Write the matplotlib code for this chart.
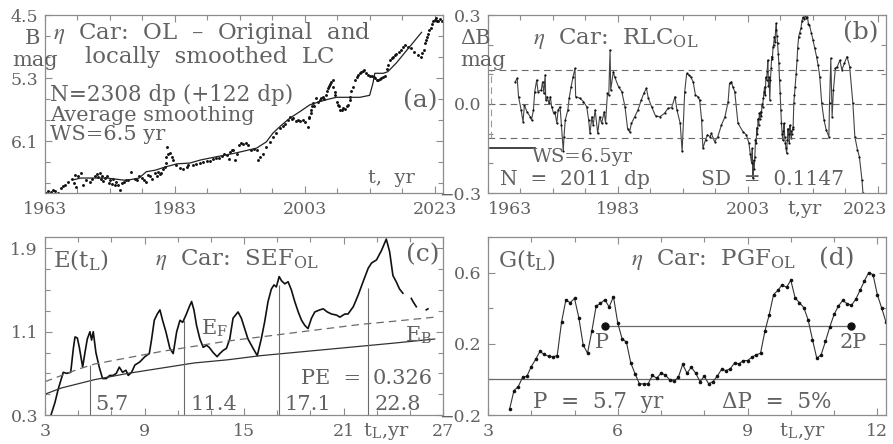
import numpy as np
import matplotlib
matplotlib.use('Agg')
import matplotlib.pyplot as plt
from matplotlib.ticker import FixedLocator

plt.rcParams['font.family'] = ['DejaVu Serif', 'DejaVu Sans']
plt.rcParams['mathtext.fontset'] = 'stix'

TXT = '#626262'
FRAME = '#8c8c8c'
GREY = '#6a6a6a'

# (a) original light curve (year, B mag) and locally smoothed curve
a_year = [1963.2, 1963.5, 1963.9, 1964.3, 1964.6, 1965.0, 1965.4, 1965.8, 1966.1, 1966.6,
          1967.1, 1967.4, 1967.6, 1967.8, 1968.1, 1968.5, 1968.9, 1969.3, 1969.9, 1970.3,
          1970.7, 1971.0, 1971.2, 1971.4, 1971.6, 1971.8, 1972.0, 1972.3, 1972.5, 1972.8,
          1973.0, 1973.3, 1973.5, 1973.8, 1974.0, 1974.3, 1974.5, 1974.8, 1975.1, 1975.5,
          1975.8, 1976.3, 1976.8, 1977.1, 1977.5, 1977.9, 1978.3, 1978.6, 1978.9, 1979.2,
          1979.5, 1979.9, 1980.2, 1980.4, 1980.7, 1980.9, 1981.2, 1981.5, 1981.6, 1981.7,
          1981.8, 1982.0, 1982.2, 1982.5, 1982.7, 1983.2, 1983.8, 1984.3, 1984.8, 1985.1,
          1985.8, 1986.3, 1986.9, 1987.4, 1987.9, 1988.4, 1988.9, 1989.4, 1989.8, 1990.2,
          1990.6, 1991.0, 1991.3, 1991.5, 1991.8, 1992.0, 1992.3, 1992.6, 1992.9, 1993.2,
          1993.5, 1993.9, 1994.3, 1994.8, 1995.2, 1995.6, 1995.8, 1996.1, 1996.6, 1997.1,
          1997.6, 1998.1, 1998.6, 1999.2, 1999.6, 1999.9, 2000.4, 2000.7, 2001.0, 2001.2,
          2001.6, 2001.9, 2002.3, 2002.7, 2003.1, 2003.5, 2003.6, 2003.7, 2003.9, 2004.0,
          2004.1, 2004.3, 2004.5, 2004.8, 2005.0, 2005.3, 2005.5, 2005.8, 2006.0, 2006.3,
          2006.5, 2006.6, 2006.8, 2006.9, 2007.1, 2007.3, 2007.4, 2007.6, 2007.7, 2007.9,
          2008.1, 2008.3, 2008.5, 2008.7, 2008.9, 2009.2, 2009.5, 2009.7, 2009.9, 2010.0,
          2010.2, 2010.5, 2010.7, 2011.0, 2011.2, 2011.5, 2011.7, 2012.0, 2012.2, 2012.5,
          2012.8, 2013.1, 2013.3, 2013.6, 2013.8, 2014.1, 2014.3, 2014.6, 2014.8, 2015.1,
          2015.3, 2015.6, 2015.8, 2016.1, 2016.4, 2016.6, 2016.9, 2017.1, 2017.5, 2017.9,
          2018.2, 2018.4, 2018.9, 2019.4, 2019.9, 2020.4, 2020.9, 2021.1, 2021.3, 2021.5,
          2021.7, 2021.8, 2022.0, 2022.2, 2022.4, 2022.6, 2022.8, 2023.0, 2023.2, 2023.4,
          2023.6, 2023.9, 2024.1]
a_mag = [6.76, 6.74, 6.75, 6.72, 6.74, 6.76, 6.70, 6.67, 6.66, 6.62,
         6.58, 6.63, 6.53, 6.68, 6.55, 6.51, 6.66, 6.60, 6.62, 6.58,
         6.55, 6.52, 6.56, 6.50, 6.58, 6.54, 6.61, 6.57, 6.55, 6.63,
         6.60, 6.64, 6.58, 6.66, 6.62, 6.66, 6.72, 6.63, 6.62, 6.60,
         6.59, 6.49, 6.58, 6.60, 6.55, 6.57, 6.60, 6.62, 6.53, 6.55,
         6.58, 6.51, 6.54, 6.49, 6.52, 6.51, 6.46, 6.43, 6.30, 6.38,
         6.17, 6.26, 6.25, 6.30, 6.34, 6.40, 6.44, 6.45, 6.43, 6.41,
         6.41, 6.39, 6.38, 6.37, 6.36, 6.35, 6.33, 6.32, 6.31, 6.29,
         6.27, 6.28, 6.33, 6.24, 6.22, 6.21, 6.34, 6.27, 6.15, 6.13,
         6.14, 6.13, 6.15, 6.21, 6.20, 6.21, 6.34, 6.30, 6.26, 6.17,
         6.11, 6.05, 6.00, 5.94, 5.91, 5.88, 5.83, 5.79, 5.82, 5.81,
         5.84, 5.83, 5.84, 5.83, 5.86, 5.92, 5.81, 5.79, 5.74, 5.71,
         5.66, 5.62, 5.65, 5.56, 5.61, 5.58, 5.55, 5.54, 5.57, 5.52,
         5.46, 5.43, 5.40, 5.37, 5.35, 5.33, 5.42, 5.48, 5.52, 5.60,
         5.64, 5.66, 5.70, 5.71, 5.68, 5.69, 5.66, 5.64, 5.58, 5.54,
         5.47, 5.41, 5.33, 5.29, 5.26, 5.24, 5.22, 5.21, 5.20, 5.24,
         5.26, 5.27, 5.28, 5.29, 5.30, 5.32, 5.33, 5.31, 5.30, 5.29,
         5.28, 5.18, 5.14, 5.07, 5.05, 5.03, 5.01, 4.99, 4.97, 4.94,
         4.91, 4.88, 4.90, 4.92, 4.97, 5.01, 5.03, 4.98, 4.94, 4.86,
         4.82, 4.78, 4.74, 4.69, 4.66, 4.61, 4.58, 4.56, 4.54, 4.58,
         4.57, 4.55, 4.57]
s_year = [1967.5, 1968.5, 1972.5, 1975.5, 1977.5, 1978.6, 1980.0, 1981.5, 1983.3, 1985.3,
          1987.0, 1989.4, 1991.9, 1993.0, 1995.6, 1997.1, 1998.1, 1999.4, 2000.7, 2002.2,
          2003.8, 2005.3, 2006.6, 2007.9, 2011.5, 2013.0, 2013.5, 2013.8, 2015.1, 2015.8,
          2017.1, 2018.1, 2019.2, 2020.2, 2021.0]
s_mag = [6.59, 6.57, 6.57, 6.60, 6.57, 6.49, 6.47, 6.43, 6.39, 6.38,
         6.34, 6.30, 6.26, 6.24, 6.19, 6.11, 6.00, 5.90, 5.81, 5.73,
         5.64, 5.60, 5.57, 5.545, 5.545, 5.52, 5.37, 5.24, 5.24, 5.22,
         5.11, 5.01, 4.90, 4.80, 4.72]

# (b) residual light curve
b_year = [1967.2, 1967.5, 1967.7, 1968.1, 1968.4, 1968.6, 1969.0, 1969.5, 1969.7, 1970.0,
          1970.2, 1970.5, 1970.7, 1971.2, 1971.4, 1971.6, 1971.8, 1971.9, 1972.1, 1972.4,
          1972.6, 1972.8, 1973.1, 1973.3, 1973.6, 1973.8, 1974.1, 1974.3, 1974.6, 1974.7,
          1974.9, 1975.3, 1975.5, 1975.8, 1976.1, 1976.4, 1976.5, 1977.2, 1977.7, 1978.2,
          1978.5, 1978.7, 1979.0, 1979.2, 1979.5, 1979.9, 1980.2, 1980.5, 1980.9, 1981.1,
          1981.4, 1981.6, 1981.8, 1981.9, 1982.3, 1982.5, 1983.1, 1983.6, 1984.1, 1984.5,
          1984.8, 1985.1, 1985.6, 1986.1, 1986.6, 1987.0, 1987.4, 1987.7, 1988.2, 1988.8,
          1989.5, 1990.2, 1990.7, 1991.3, 1991.8, 1992.1, 1992.6, 1992.9, 1993.3, 1993.6,
          1993.9, 1994.2, 1994.6, 1994.95, 1995.3, 1995.6, 1995.9, 1996.1, 1996.5, 1996.8,
          1997.2, 1997.4, 1997.9, 1998.4, 1998.95, 1999.5, 1999.98, 2000.2, 2000.5, 2000.7,
          2001.0, 2001.5, 2002.3, 2002.8, 2003.2, 2003.4, 2003.6, 2003.7, 2003.8, 2003.9,
          2004.0, 2004.1, 2004.2, 2004.3, 2004.4, 2004.5, 2004.6, 2004.7, 2004.8, 2004.9,
          2005.0, 2005.1, 2005.2, 2005.3, 2005.4, 2005.5, 2005.6, 2005.7, 2005.8, 2005.9,
          2006.0, 2006.1, 2006.2, 2006.3, 2006.4, 2006.5, 2006.6, 2006.7, 2006.8, 2006.9,
          2007.0, 2007.1, 2007.2, 2007.3, 2007.4, 2007.5, 2007.6, 2007.7, 2007.8, 2007.9,
          2008.0, 2008.1, 2008.2, 2008.3, 2008.4, 2008.5, 2008.6, 2008.7, 2008.8, 2008.9,
          2009.0, 2009.1, 2009.2, 2009.3, 2009.4, 2009.5, 2009.6, 2009.7, 2009.8, 2009.9,
          2010.0, 2010.1, 2010.2, 2010.3, 2010.45, 2010.6, 2010.7, 2010.85, 2011.0, 2011.2,
          2011.35, 2011.5, 2011.7, 2011.9, 2012.05, 2012.2, 2012.35, 2012.5, 2012.8, 2013.05,
          2013.3, 2013.6, 2013.85, 2014.1, 2014.4, 2014.75, 2015.1, 2015.5, 2015.6, 2015.8,
          2016.0, 2016.2, 2016.5, 2016.8, 2017.2, 2017.5, 2017.9, 2018.3, 2018.7, 2019.2,
          2019.5, 2019.9, 2020.2, 2020.6, 2020.75]
b_dev = [0.075, 0.087, 0.025, -0.020, -0.060, -0.003, -0.026, -0.043, -0.054, -0.020,
         0.042, 0.081, 0.042, 0.047, 0.075, 0.036, 0.098, 0.013, 0.025, 0.002,
         0.025, -0.009, -0.031, -0.026, -0.065, -0.020, -0.009, -0.071, -0.160, -0.110,
         -0.054, -0.020, 0.019, 0.058, 0.092, 0.120, 0.025, 0.019, 0.008, -0.009,
         -0.054, -0.099, -0.043, -0.071, -0.020, -0.099, -0.043, -0.065, -0.026, -0.065,
         0.036, 0.030, 0.182, 0.047, 0.109, 0.092, 0.058, 0.042, -0.009, -0.083,
         -0.094, -0.065, -0.043, -0.020, 0.013, 0.036, 0.053, 0.019, -0.009, -0.040,
         -0.043, -0.031, -0.015, -0.012, 0.025, -0.020, -0.065, -0.160, 0.042, 0.103,
         0.098, 0.092, 0.075, 0.030, 0.025, 0.013, -0.054, -0.149, -0.121, -0.104,
         -0.110, -0.099, -0.127, -0.110, -0.071, -0.043, 0.008, 0.070, 0.075, 0.058,
         0.042, -0.065, -0.094, -0.104, -0.133, -0.170, -0.200, -0.150, -0.250, -0.190,
         -0.220, -0.178, -0.120, -0.133, -0.080, -0.100, -0.050, -0.070, -0.030, -0.050,
         -0.026, -0.040, 0.000, -0.010, 0.019, 0.040, 0.058, 0.030, 0.090, 0.081,
         0.110, 0.148, 0.060, 0.090, 0.013, 0.080, 0.120, 0.160, 0.150, 0.193,
         0.200, 0.227, 0.210, 0.250, 0.272, 0.230, 0.204, 0.170, 0.137, 0.080,
         0.036, -0.020, -0.065, -0.100, -0.121, -0.090, -0.065, -0.110, -0.133, -0.150,
         -0.166, -0.120, -0.083, -0.100, -0.130, -0.071, -0.090, -0.116, -0.100, -0.085,
         -0.076, 0.002, 0.030, 0.058, 0.100, 0.148, 0.190, 0.227, 0.240, 0.255,
         0.280, 0.292, 0.285, 0.300, 0.290, 0.294, 0.270, 0.266, 0.240, 0.216,
         0.190, 0.160, 0.130, 0.092, 0.002, -0.054, -0.088, -0.110, 0.002, 0.154,
         -0.043, 0.047, 0.120, 0.126, 0.148, 0.115, 0.137, 0.160, 0.126, 0.002,
         -0.110, -0.154, -0.178, -0.256, -0.300]
b_sd = 0.1147

# (c) superposed epoch function and its noise levels
c_lag = [3.36, 3.6, 3.8, 4.1, 4.3, 4.55, 4.71, 4.81, 4.95, 5.07,
         5.27, 5.41, 5.55, 5.71, 5.81, 5.91, 6.07, 6.27, 6.47, 6.7,
         6.9, 7.1, 7.3, 7.48, 7.68, 7.88, 8.02, 8.22, 8.42, 8.72,
         9.02, 9.29, 9.43, 9.59, 9.77, 9.93, 10.09, 10.29, 10.53, 10.73,
         10.94, 11.14, 11.3, 11.5, 11.7, 11.84, 11.98, 12.14, 12.34, 12.54,
         12.74, 12.9, 13.14, 13.38, 13.54, 13.74, 13.94, 14.14, 14.34, 14.54,
         14.64, 14.84, 15.04, 15.24, 15.55, 15.8, 16.04, 16.24, 16.45, 16.65,
         16.81, 16.95, 17.12, 17.26, 17.46, 17.66, 17.86, 18.06, 18.27, 18.47,
         18.67, 18.86, 19.07, 19.27, 19.57, 19.78, 20.02, 20.28, 20.58, 20.78,
         21.08, 21.27, 21.59, 21.88, 22.18, 22.49, 22.69, 22.99, 23.29, 23.58,
         23.78, 23.98, 24.18, 24.38, 24.58, 24.8, 25.09, 25.19, 25.39, 25.7,
         25.99, 26.09]
c_sef = [0.30, 0.42, 0.55, 0.71, 0.70, 0.71, 0.94, 1.05, 1.04, 0.95,
         0.76, 0.90, 1.03, 1.10, 1.02, 1.10, 0.90, 0.76, 0.65, 0.65,
         0.68, 0.68, 0.70, 0.76, 0.71, 0.73, 0.68, 0.71, 0.78, 0.81,
         0.86, 0.89, 1.03, 1.21, 1.27, 1.31, 1.21, 1.10, 0.94, 0.89,
         1.10, 1.21, 1.19, 1.26, 1.34, 1.39, 1.31, 1.16, 1.03, 0.95,
         0.97, 0.95, 0.90, 0.86, 0.89, 0.92, 0.94, 1.03, 1.23, 1.27,
         1.29, 1.23, 1.13, 1.03, 0.94, 0.87, 1.03, 1.19, 1.39, 1.51,
         1.55, 1.53, 1.63, 1.59, 1.56, 1.58, 1.50, 1.39, 1.29, 1.21,
         1.16, 1.13, 1.23, 1.29, 1.31, 1.32, 1.29, 1.27, 1.26, 1.24,
         1.27, 1.27, 1.34, 1.45, 1.58, 1.71, 1.76, 1.79, 1.88, 1.99,
         1.87, 1.64, 1.58, 1.51, 1.47, np.nan, 1.42, 1.39, 1.34, np.nan,
         1.31, 1.32]
ef_lag = [3, 4, 5, 6, 8, 10, 12, 14, 16, 18, 20, 22, 24, 26.5]
ef_val = [0.62, 0.68, 0.74, 0.79, 0.85, 0.91, 0.96, 1.01, 1.05, 1.09, 1.13, 1.17, 1.20, 1.24]
eb_val = [0.50, 0.56, 0.60, 0.64, 0.70, 0.75, 0.80, 0.83, 0.87, 0.90, 0.93, 0.96, 0.99, 1.03]
harm_x = [5.7, 11.4, 17.1, 22.5]
harm_top = [0.78, 1.21, 1.55, 1.52]
harm_lbl = ['5.7', '11.4', '17.1', '22.8']

# (d) period-gram function
g_lag = np.round(np.arange(3.5, 12.25, 0.1), 1)
g_val = [-0.166, -0.063, -0.040, 0.012, 0.018, 0.072, 0.112, 0.157, 0.140, 0.130,
         0.127, 0.134, 0.322, 0.446, 0.431, 0.455, 0.346, 0.194, 0.147, 0.271,
         0.412, 0.427, 0.448, 0.407, 0.465, 0.316, 0.228, 0.209, 0.093, 0.031,
         -0.025, -0.025, -0.025, 0.022, 0.007, 0.035, 0.025, -0.003, -0.010, 0.012,
         0.084, 0.035, 0.069, 0.035, -0.012, 0.018, -0.025, -0.012, 0.018, 0.057,
         0.050, 0.059, 0.093, 0.087, 0.106, 0.106, 0.125, 0.138, 0.147, 0.270,
         0.363, 0.476, 0.500, 0.532, 0.517, 0.557, 0.457, 0.431, 0.403, 0.335,
         0.224, 0.119, 0.138, 0.213, 0.294, 0.365, 0.412, 0.444, 0.425, 0.416,
         0.450, 0.500, 0.553, 0.600, 0.589, 0.476, 0.401, 0.322]
p_marks = [5.7, 11.4]
p_level = 0.3

FS_TXT = 15
FS_HEAD = 16.5
FS_TICK = 12.5


def style(ax, xt, xminor, yt, ylabels, yminor, xlabels=None):
    ax.set_xticks(xt, labels=xlabels if xlabels else [str(v) for v in xt])
    ax.set_yticks(yt, labels=ylabels)
    ax.xaxis.set_minor_locator(FixedLocator(xminor))
    ax.yaxis.set_minor_locator(FixedLocator(yminor))
    ax.tick_params(which='both', direction='in', top=True, right=True,
                   colors=FRAME, labelcolor=TXT, labelsize=FS_TICK, width=0.8)
    ax.tick_params(which='major', length=5)
    ax.tick_params(which='minor', length=3.5)
    ax.tick_params(axis='x', which='major', pad=6)
    ax.tick_params(axis='y', which='major', pad=5)
    for sp in ax.spines.values():
        sp.set_color(FRAME)
        sp.set_linewidth(0.9)


fig = plt.figure(figsize=(8.93, 4.44), dpi=100)
W, H = 893.0, 444.0
ax_a = fig.add_axes([45 / W, 1 - 193 / H, 398 / W, 178 / H])
ax_b = fig.add_axes([488 / W, 1 - 193 / H, 398 / W, 178 / H])
ax_c = fig.add_axes([45 / W, 1 - 415 / H, 398 / W, 178 / H])
ax_d = fig.add_axes([488 / W, 1 - 415 / H, 398 / W, 178 / H])

yrs_major = [1963, 1983, 2003, 2023]
yrs_minor = list(range(1968, 2024, 5))

# ---- (a)
ax = ax_a
ax.plot(a_year, a_mag, ls='none', marker='o', ms=2.1, mew=0, color='#111111')
ax.plot(s_year, s_mag, color='#222222', lw=0.9)
ax.set_xlim(1963, 2024.3)
ax.set_ylim(6.76, 4.5)
style(ax, yrs_major, yrs_minor, [4.5, 5.3, 6.1], ['4.5', '5.3', '6.1'],
      list(np.arange(4.5, 6.8, 0.8 / 3)))
kw = dict(transform=ax.transAxes, color=TXT, clip_on=False)
ax.text(-0.05, 0.868, 'B', fontsize=FS_TXT, va='center', ha='left', **kw)
ax.text(-0.083, 0.747, 'mag', fontsize=FS_TXT, va='center', ha='left', **kw)
ax.text(0.02, 0.899, r'$\eta$  Car:  OL  –  Original  and', fontsize=FS_HEAD, va='center', **kw)
ax.text(0.1, 0.764, 'locally  smoothed  LC', fontsize=FS_HEAD, va='center', **kw)
ax.text(0.012, 0.55, 'N=2308 dp (+122 dp)', fontsize=15.5, va='center', **kw)
ax.text(0.012, 0.438, 'Average smoothing', fontsize=FS_TXT, va='center', **kw)
ax.text(0.012, 0.326, 'WS=6.5 yr', fontsize=FS_TXT, va='center', **kw)
ax.text(0.985, 0.52, '(a)', fontsize=18, va='center', ha='right', **kw)
ax.text(0.93, 0.085, 't,  yr', fontsize=14, va='center', ha='right', **kw)

# ---- (b)
ax = ax_b
ax.plot(b_year, b_dev, color='#444444', lw=0.8, marker='o', ms=1.6, mew=0, mfc='#111111')
for lev in (-b_sd, 0.0, b_sd):
    ax.axhline(lev, color=GREY, lw=0.8, ls=(0, (6, 4)))
ax.vlines(1963.4, -b_sd, b_sd, color='#999999', lw=0.8, ls=(0, (6, 4)))
ax.plot([1963.3, 1970.2], [-0.149, -0.149], color='#222222', lw=1.2)
ax.set_xlim(1963, 2024.3)
ax.set_ylim(-0.3, 0.3)
style(ax, yrs_major, yrs_minor, [-0.3, 0.0, 0.3], ['\u22120.3', '0.0', '0.3'],
      [-0.2, -0.1, 0.1, 0.2], xlabels=['1963', '1983', '2003', ''])
ax.get_xticklabels()[0].set_horizontalalignment('left')
ax.text(2024.5, -0.09, '2023', fontsize=FS_TICK, va='center', ha='right', color=TXT,
        transform=ax.get_xaxis_transform(), clip_on=False)
kw = dict(transform=ax.transAxes, color=TXT, clip_on=False)
ax.text(-0.07, 0.868, '\u0394B', fontsize=FS_TXT, va='center', ha='left', **kw)
ax.text(-0.07, 0.747, 'mag', fontsize=FS_TXT, va='center', ha='left', **kw)
ax.text(0.113, 0.87, r'$\eta$  Car:  RLC$_{\mathregular{OL}}$', fontsize=FS_HEAD, va='center', **kw)
ax.text(0.98, 0.9, '(b)', fontsize=18, va='center', ha='right', **kw)
ax.text(1969.7, -0.178, 'WS=6.5yr', fontsize=14, va='center', color=TXT)
ax.text(1964.8, -0.254, 'N  =  2011  dp', fontsize=14.5, va='center', color=TXT)
ax.text(1995.8, -0.254, 'SD  =  0.1147', fontsize=14.5, va='center', color=TXT)
ax.text(2011.8, -0.09, 't,yr', fontsize=14, va='center', ha='center', color=TXT,
        transform=ax.get_xaxis_transform(), clip_on=False)

# ---- (c)
ax = ax_c
ax.plot(c_lag, c_sef, color='#111111', lw=1.2)
ax.plot(ef_lag, ef_val, color=GREY, lw=0.9, ls=(0, (6, 4)))
ax.plot(ef_lag, eb_val, color='#333333', lw=0.9)
ax.vlines(harm_x, 0.3, harm_top, color=GREY, lw=0.8)
for hx, lbl in zip(harm_x, harm_lbl):
    ax.text(hx + 0.35, 0.40, lbl, fontsize=FS_TXT, va='center', color=TXT)
ax.text(18.46, 0.647, 'PE  =', fontsize=FS_TXT, va='center', color=TXT)
ax.text(22.78, 0.647, '0.326', fontsize=FS_TXT, va='center', color=TXT)
ax.text(12.4, 1.13, r'E$_{\mathregular{F}}$', fontsize=FS_TXT, va='center', color=TXT)
ax.text(24.7, 1.07, r'E$_{\mathregular{B}}$', fontsize=FS_TXT, va='center', color=TXT)
ax.set_xlim(3, 27)
ax.set_ylim(0.3, 2.01)
style(ax, [3, 9, 15, 21, 27], list(range(5, 27, 2)), [0.3, 1.1, 1.9], ['0.3', '1.1', '1.9'],
      [0.5, 0.7, 0.9, 1.3, 1.5, 1.7])
kw = dict(transform=ax.transAxes, color=TXT, clip_on=False)
ax.text(0.02, 0.876, r'E(t$_{\mathregular{L}}$)', fontsize=FS_HEAD, va='center', **kw)
ax.text(0.276, 0.876, r'$\eta$  Car:  SEF$_{\mathregular{OL}}$', fontsize=FS_HEAD, va='center', **kw)
ax.text(0.99, 0.9, '(c)', fontsize=18, va='center', ha='right', **kw)
ax.text(23.6, -0.09, r't$_{\mathregular{L}}$,yr', fontsize=14, va='center', ha='center',
        color=TXT, transform=ax.get_xaxis_transform(), clip_on=False)

# ---- (d)
ax = ax_d
ax.axhline(0.0, color=GREY, lw=0.9)
ax.plot(p_marks, [p_level, p_level], color=GREY, lw=0.9)
ax.plot(p_marks, [p_level, p_level], ls='none', marker='o', ms=5, color='#111111')
ax.plot(g_lag, g_val, color='#333333', lw=0.8, marker='o', ms=2.6, mew=0, mfc='#111111')
ax.text(5.64, 0.21, 'P', fontsize=FS_TXT, va='center', ha='center', color=TXT)
ax.text(11.44, 0.21, '2P', fontsize=FS_TXT, va='center', ha='center', color=TXT)
ax.text(4.04, -0.129, 'P  =  5.7  yr', fontsize=15.5, va='center', color=TXT)
ax.text(8.42, -0.129, '\u0394P  =  5%', fontsize=15.5, va='center', color=TXT)
ax.set_xlim(3, 12.2)
ax.set_ylim(-0.2, 0.8)
style(ax, [3, 6, 9, 12], [4, 5, 7, 8, 10, 11], [-0.2, 0.2, 0.6], ['\u22120.2', '0.2', '0.6'],
      [0.0, 0.4, 0.8])
kw = dict(transform=ax.transAxes, color=TXT, clip_on=False)
ax.text(0.025, 0.876, r'G(t$_{\mathregular{L}}$)', fontsize=FS_HEAD, va='center', **kw)
ax.text(0.36, 0.876, r'$\eta$  Car:  PGF$_{\mathregular{OL}}$', fontsize=FS_HEAD, va='center', **kw)
ax.text(0.92, 0.876, '(d)', fontsize=18, va='center', ha='right', **kw)
ax.text(10.27, -0.09, r't$_{\mathregular{L}}$,yr', fontsize=14, va='center', ha='center',
        color=TXT, transform=ax.get_xaxis_transform(), clip_on=False)

fig.savefig('out.png', dpi=100)
